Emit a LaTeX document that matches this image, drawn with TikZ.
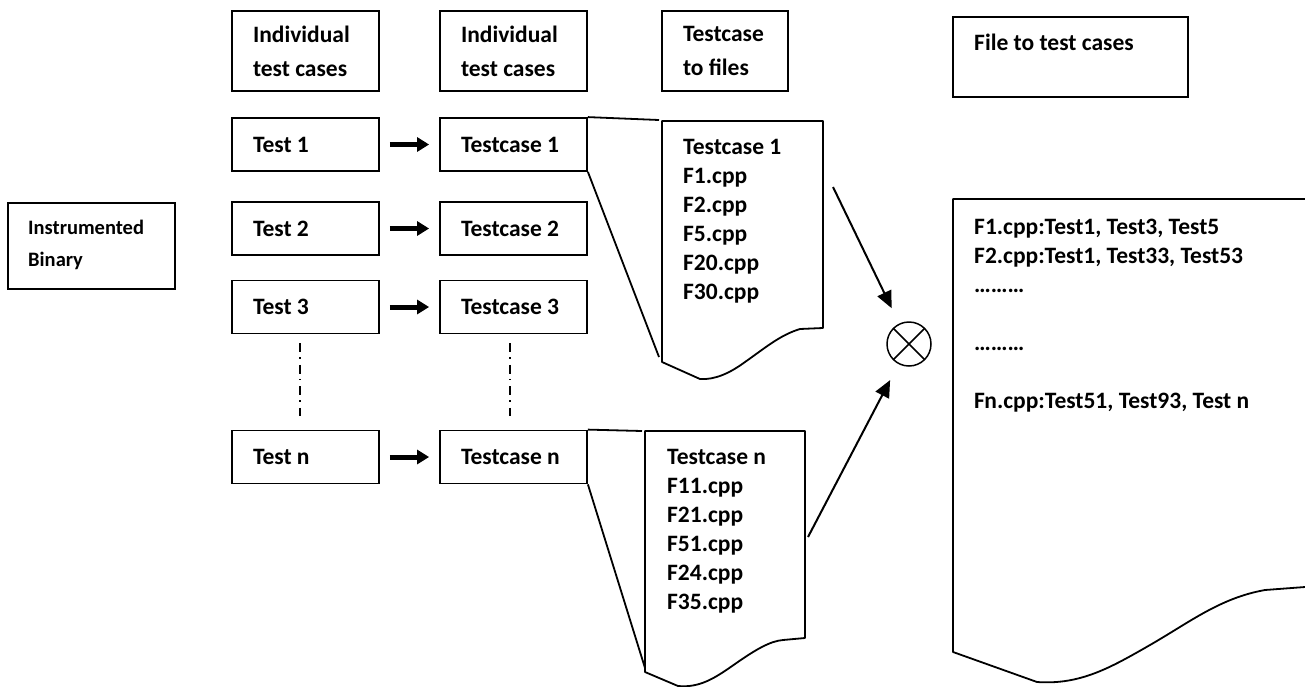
\documentclass[tikz,border=0pt]{standalone}
\usepackage{fontspec}
\setmainfont{Carlito}
\usetikzlibrary{arrows.meta}
\begin{document}
\begin{tikzpicture}[x=1pt,y=-1pt,
  every node/.style={font=\fontsize{23.5}{29}\selectfont\bfseries},
  box/.style={draw, line width=1.8pt, inner xsep=21pt, inner ysep=0pt, align=flush left},
  rowbox/.style={box, minimum width=147pt, minimum height=53pt, text width=105pt},
  hdrbox/.style={box, minimum width=147pt, minimum height=80pt, text width=105pt, font=\fontsize{23.5}{34}\selectfont\bfseries},
  plainbox/.style={draw, line width=1.8pt, inner sep=0pt},
  txt/.style={inner sep=0pt, anchor=base west},
  blockarrow/.style={line width=5pt, -{Triangle[length=12pt,width=14pt]}, shorten <=10pt, shorten >=10pt},
  dashdot/.style={line width=1.5pt, dash pattern=on 9pt off 5pt on 1.5pt off 6pt},
  linkline/.style={line width=1.8pt},
  joinarrow/.style={line width=2pt, -{Triangle[length=17pt,width=15pt]}},
  doc/.style={line width=1.8pt, line join=round}]
\useasboundingbox (0,0) rectangle (1305,686);

% header boxes
\node[hdrbox] (h1) at (305.5,51) {Individual\\test cases};
\node[hdrbox] (h2) at (513.5,51) {Individual\\test cases};
\node[hdrbox, minimum width=126pt, text width=84pt] (h3) at (725,51) {Testcase\\to files};
\node[plainbox, minimum width=235pt, minimum height=80pt] (h4) at (1070.5,57) {};
\node[txt] (h4t) at (974,50) {File to test cases};

% instrumented binary
\node[plainbox, minimum width=167pt, minimum height=86pt] (inst) at (91.5,246) {};
\node[txt, font=\fontsize{20.5}{32}\selectfont\bfseries] (instt) at (28,234)
  {\begin{tabular}[t]{@{}l@{}}Instrumented\\Binary\end{tabular}};

% rows
\node[rowbox] (t1) at (305.5,144.5) {Test 1};
\node[rowbox] (t2) at (305.5,228.5) {Test 2};
\node[rowbox] (t3) at (305.5,307) {Test 3};
\node[rowbox] (tn) at (305.5,457) {Test n};
\node[rowbox] (tc1) at (513.5,144.5) {Testcase 1};
\node[rowbox] (tc2) at (513.5,228.5) {Testcase 2};
\node[rowbox] (tc3) at (513.5,307) {Testcase 3};
\node[rowbox] (tcn) at (513.5,457) {Testcase n};

\draw[blockarrow] (t1) -- (tc1);
\draw[blockarrow] (t2) -- (tc2);
\draw[blockarrow] (t3) -- (tc3);
\draw[blockarrow] (tn) -- (tcn);

\draw[dashdot, shorten <=9pt, shorten >=14pt] ([xshift=-5.5pt]t3.south) -- ([xshift=-5.5pt]tn.north);
\draw[dashdot, shorten <=9pt, shorten >=14pt] ([xshift=-3.5pt]tc3.south) -- ([xshift=-3.5pt]tcn.north);

% document 1
\draw[doc] (662,121) -- (823,121) -- (823,328) -- (800,329)
  .. controls (780,335) and (765,348) .. (745,362)
  .. controls (730,373) and (715,380) .. (700,379) -- (662,362) -- cycle;
\node[txt] (d1t) at (683,154)
  {\begin{tabular}[t]{@{}l@{}}Testcase 1\\F1.cpp\\F2.cpp\\F5.cpp\\F20.cpp\\F30.cpp\end{tabular}};
\coordinate (d1gt) at (659,120);
\coordinate (d1gb) at (659,357);
\draw[linkline] (tc1.north east) -- (d1gt);
\draw[linkline] (tc1.south east) -- (d1gb);

% document n
\draw[doc] (645,431) -- (805,431) -- (805,638) -- (783,640)
  .. controls (770,641) and (755,650) .. (735,664)
  .. controls (715,678) and (700,688) .. (678,686) -- (645,672) -- cycle;
\node[txt] (dnt) at (667,464)
  {\begin{tabular}[t]{@{}l@{}}Testcase n\\F11.cpp\\F21.cpp\\F51.cpp\\F24.cpp\\F35.cpp\end{tabular}};
\coordinate (dngt) at (642,431);
\coordinate (dngb) at (645,668);
\draw[linkline] (tcn.north east) -- (dngt);
\draw[linkline] (tcn.south east) -- (dngb);

% big document
\draw[doc] (1305,199) -- (953,199) -- (953,652) -- (1037,682)
  .. controls (1080,685) and (1110,668) .. (1150,645)
  .. controls (1190,622) and (1220,598) .. (1265,590) -- (1305,587);
\node[txt] (bt) at (974,234)
  {\begin{tabular}[t]{@{}l@{}}F1.cpp:Test1, Test3, Test5\\F2.cpp:Test1, Test33, Test53\\………\\[29pt]………\\[29pt]Fn.cpp:Test51, Test93, Test n\end{tabular}};

% combine
\node[circle, draw, line width=1.5pt, minimum size=44pt, inner sep=0pt,
  path picture={\draw[line width=1.5pt] (path picture bounding box.north west) -- (path picture bounding box.south east)
  (path picture bounding box.north east) -- (path picture bounding box.south west);}] (ox) at (909,344) {};
\coordinate (a1) at (833,187);
\coordinate (a2) at (808,537);
\draw[joinarrow, shorten >=17pt] (a1) -- (ox);
\draw[joinarrow, shorten >=18pt] (a2) -- (ox);
\end{tikzpicture}
\end{document}
